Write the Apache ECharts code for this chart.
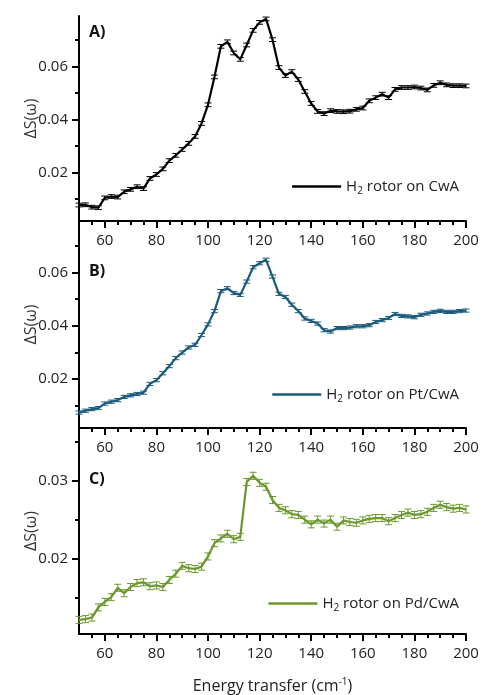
<!DOCTYPE html>
<html>
<head>
<meta charset="utf-8">
<script src="https://cdn.jsdelivr.net/npm/echarts@6/dist/echarts.min.js"></script>
<style>
html,body{margin:0;padding:0;background:#fff;}
#chart{width:482px;height:695px;}
</style>
</head>
<body>
<div id="chart"></div>
<script>
// Energy transfer (cm^-1)
const energy = [50,52.5,55,57.5,60,62.5,65,67.5,70,72.5,75,77.5,80,82.5,85,87.5,90,92.5,95,97.5,
  100,102.5,105,107.5,110,112.5,115,117.5,120,122.5,125,127.5,130,132.5,135,137.5,140,142.5,145,147.5,
  150,152.5,155,157.5,160,162.5,165,167.5,170,172.5,175,177.5,180,182.5,185,187.5,190,192.5,195,197.5,200];

// Panel A: H2 rotor on CwA
const cwa = [0.0078,0.0079,0.0070,0.0068,0.0105,0.0110,0.0108,0.0128,0.0137,0.0147,0.0140,0.0178,0.0193,0.0214,0.0245,0.0265,0.0287,0.0310,0.0336,0.0385,
  0.0455,0.0560,0.0675,0.0692,0.0650,0.0626,0.0680,0.0735,0.0765,0.0778,0.0700,0.0595,0.0565,0.0580,0.0550,0.0505,0.0460,0.0430,0.0422,0.0433,
  0.0430,0.0429,0.0431,0.0438,0.0443,0.0470,0.0482,0.0495,0.0482,0.0513,0.0520,0.0520,0.0522,0.0518,0.0511,0.0528,0.0538,0.0530,0.0527,0.0527,0.0526];

// Panel B: H2 rotor on Pt/CwA
const ptcwa = [0.0073,0.0080,0.0086,0.0090,0.0107,0.0114,0.0120,0.0132,0.0138,0.0143,0.0148,0.0181,0.0195,0.0221,0.0248,0.0278,0.0299,0.0318,0.0328,0.0365,
  0.0405,0.0455,0.0530,0.0541,0.0523,0.0516,0.0566,0.0620,0.0635,0.0648,0.0585,0.0520,0.0508,0.0479,0.0455,0.0427,0.0418,0.0408,0.0383,0.0378,
  0.0391,0.0391,0.0393,0.0398,0.0398,0.0402,0.0414,0.0421,0.0429,0.0444,0.0437,0.0435,0.0432,0.0441,0.0446,0.0452,0.0456,0.0452,0.0452,0.0455,0.0457];

// Panel C: H2 rotor on Pd/CwA
const pdcwa = [0.0122,0.0123,0.0125,0.0138,0.0145,0.0151,0.0163,0.0156,0.0164,0.0169,0.0170,0.0165,0.0166,0.0164,0.0173,0.0181,0.0191,0.0188,0.0187,0.0190,
  0.0203,0.0220,0.0226,0.0232,0.0225,0.0228,0.0298,0.0306,0.0297,0.0292,0.0275,0.0265,0.0262,0.0257,0.0256,0.0250,0.0244,0.0250,0.0245,0.0250,
  0.0241,0.0249,0.0247,0.0246,0.0249,0.0251,0.0252,0.0252,0.0248,0.0252,0.0256,0.0259,0.0256,0.0257,0.0260,0.0265,0.0269,0.0266,0.0264,0.0265,0.0263];

// Estimated error-bar half heights
const errA = 0.0007;
const errB = 0.0006;
const errC = 0.00045;

// Tick labels
const xMajor = [60,80,100,120,140,160,180,200];
const xMinor = [55,65,70,75,85,90,95,105,110,115,125,130,135,145,150,155,165,170,175,185,190,195];
const yMajorAB = [0.02,0.04,0.06];
const yMinorAB = [0.01,0.03,0.05,0.07];
const yMajorC = [0.02,0.03];
const yMinorC = [0.015,0.025,0.035];

const panelLabels = ['A)','B)','C)'];
const seriesNames = ['H2 rotor on CwA','H2 rotor on Pt/CwA','H2 rotor on Pd/CwA'];
const colors = ['#000000','#1a5b7c','#6b982c'];

const FONT = '"Open Sans", sans-serif';
const chart = echarts.init(document.getElementById('chart'), null, {renderer:'canvas'});

const grids = [
  {left:79, right:16, top:16, height:205},
  {left:79, right:16, top:221, height:207},
  {left:79, right:16, top:428, height:206}
];
const yRanges = [[0.0018,0.0789],[0.0015,0.0794],[0.0104,0.0367]];
const yMaj = [yMajorAB, yMajorAB, yMajorC];
const yMin = [yMinorAB, yMinorAB, yMinorC];
const dataSets = [cwa, ptcwa, pdcwa];
const errs = [errA, errB, errC];

const xAxes = [], yAxes = [], series = [];
for (let p = 0; p < 3; p++) {
  const xa = {
    type:'value', gridIndex:p, min:50, max:200, position:'bottom',
    axisLine:{show:true, onZero:false, lineStyle:{color:'#000', width:2}},
    axisTick:{show:true, customValues:xMajor, length:7, lineStyle:{color:'#000', width:2}},
    axisLabel:{customValues:xMajor, margin:12, fontSize:15, color:'#222', fontFamily:FONT},
    splitLine:{show:false}
  };
  if (p === 2) {
    xa.name = '{a|Energy transfer (cm}{s|-1}{a|)}';
    xa.nameLocation = 'middle';
    xa.nameGap = 43;
    xa.nameMoveOverlap = false;
    xa.nameTextStyle = {
      rich:{
        a:{fontSize:16, color:'#222', fontFamily:FONT},
        s:{fontSize:10, color:'#222', fontFamily:FONT, padding:[0,0,9,0]}
      }
    };
  }
  xAxes.push(xa);
  xAxes.push({
    type:'value', gridIndex:p, min:50, max:200, position:'bottom',
    axisLine:{show:false, onZero:false},
    axisTick:{show:true, customValues:xMinor, length:4, lineStyle:{color:'#000', width:2}},
    axisLabel:{show:false}, splitLine:{show:false}
  });
  yAxes.push({
    type:'value', gridIndex:p, min:yRanges[p][0], max:yRanges[p][1], position:'left',
    axisLine:{show:true, onZero:false, lineStyle:{color:'#000', width:2}},
    axisTick:{show:true, customValues:yMaj[p], length:7, lineStyle:{color:'#000', width:2}},
    axisLabel:{customValues:yMaj[p], margin:11, fontSize:15, color:'#222', fontFamily:FONT},
    splitLine:{show:false},
    name:'ΔS(ω)', nameLocation:'middle', nameGap:40, nameMoveOverlap:false,
    nameTextStyle:{fontSize:16, color:'#333', fontFamily:FONT}
  });
  yAxes.push({
    type:'value', gridIndex:p, min:yRanges[p][0], max:yRanges[p][1], position:'left',
    axisLine:{show:false, onZero:false},
    axisTick:{show:true, customValues:yMin[p], length:4, lineStyle:{color:'#000', width:2}},
    axisLabel:{show:false}, splitLine:{show:false}
  });

  const ys = dataSets[p];
  const color = colors[p];
  const err = errs[p];
  series.push({
    name:seriesNames[p], type:'line', xAxisIndex:2*p, yAxisIndex:2*p,
    data: energy.map((x,i)=>[x, ys[i]]),
    showSymbol:false, symbol:'none', smooth:false,
    lineStyle:{color:color, width:2.2}, itemStyle:{color:color},
    z:4, silent:true, animation:false
  });
  series.push({
    type:'custom', xAxisIndex:2*p, yAxisIndex:2*p,
    data: energy.map((x,i)=>[x, ys[i]-err, ys[i]+err]),
    encode:{x:0, y:[1,2]},
    renderItem:(params, api) => {
      const x = api.value(0);
      const lo = api.coord([x, api.value(1)]);
      const hi = api.coord([x, api.value(2)]);
      const hw = 3.5;
      const st = {stroke:color, lineWidth:1};
      return {type:'group', children:[
        {type:'line', shape:{x1:lo[0], y1:lo[1], x2:hi[0], y2:hi[1]}, style:st},
        {type:'line', shape:{x1:lo[0]-hw, y1:lo[1], x2:lo[0]+hw, y2:lo[1]}, style:st},
        {type:'line', shape:{x1:hi[0]-hw, y1:hi[1], x2:hi[0]+hw, y2:hi[1]}, style:st}
      ]};
    },
    z:3, silent:true, animation:false
  });
}

const legendTops = [174, 382, 591];
const legends = seriesNames.map((n,p)=>({
  data:[n], right:18, top:legendTops[p], orient:'horizontal',
  icon:'rect', itemWidth:49, itemHeight:2.5, itemGap:5,
  selectedMode:false,
  formatter: name => '{a|H}{s|2}{a|' + name.slice(2) + '}',
  textStyle:{
    color:'#222', fontFamily:FONT,
    rich:{
      a:{fontSize:15, color:'#222', fontFamily:FONT},
      s:{fontSize:10, color:'#222', fontFamily:FONT, padding:[9,0,0,0]}
    }
  }
}));

const labelTops = [24, 263, 471];
const graphics = panelLabels.map((t,p)=>({
  type:'text', left:89, top:labelTops[p],
  style:{text:t, fontSize:16, fontWeight:'bold', fill:'#111', fontFamily:FONT}
}));

chart.setOption({
  animation:false,
  backgroundColor:'#fff',
  grid: grids.map(g=>Object.assign({outerBoundsMode:'none', containLabel:false}, g)),
  xAxis:xAxes,
  yAxis:yAxes,
  legend:legends,
  graphic:graphics,
  series:series
});
</script>
</body>
</html>
